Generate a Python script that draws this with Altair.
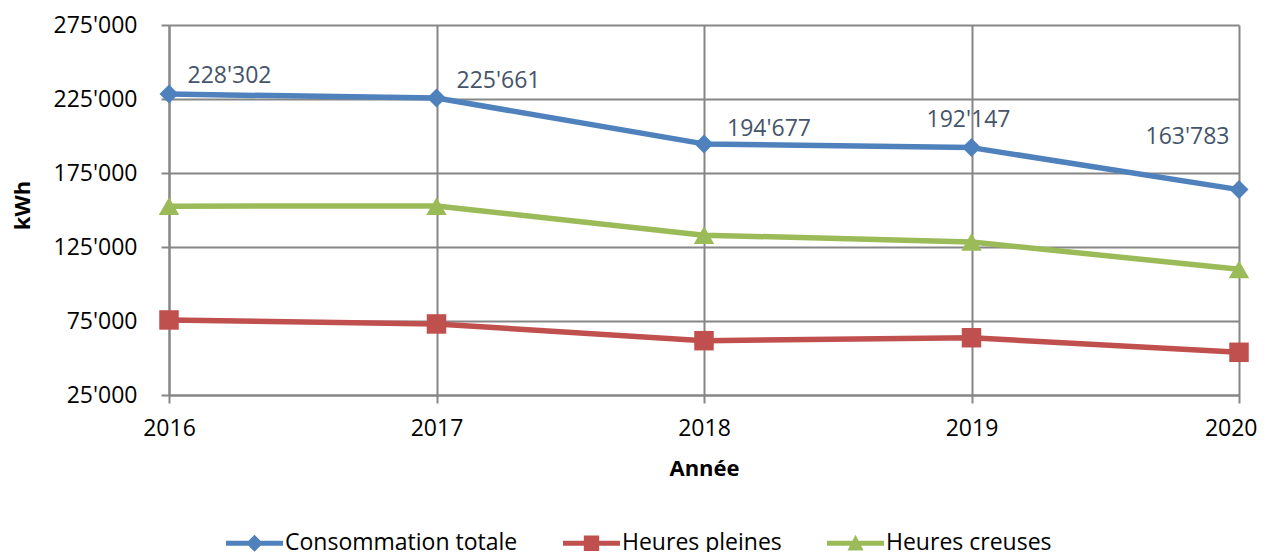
import altair as alt
import pandas as pd

# ---------------- data ----------------
YEARS = [2016, 2017, 2018, 2019, 2020]
SERIES = ["Consommation totale", "Heures pleines", "Heures creuses"]
TOTALE = [228302, 225661, 194677, 192147, 163783]
PLEINES = [75700, 73000, 61700, 63700, 53850]
CREUSES = [152600, 152660, 133000, 128450, 109930]
Y_TICKS = [25000, 75000, 125000, 175000, 225000, 275000]

# ---------------- styles ----------------
COLORS = ["#4F81BD", "#C0504D", "#9BBB59"]
SHAPES = ["diamond", "square", "triangle-up"]
SIZES = [361, 380, 420]
LEGEND_SHAPES = [
    "M-1,-0.09 L-0.21,-0.09 L0,-0.3 L0.21,-0.09 L1,-0.09 L1,0.09 L0.21,0.09 L0,0.3 L-0.21,0.09 L-1,0.09 Z",
    "M-1,-0.09 L-0.27,-0.09 L-0.27,-0.27 L0.27,-0.27 L0.27,-0.09 L1,-0.09 L1,0.09 L0.27,0.09 L0.27,0.27 L-0.27,0.27 L-0.27,0.09 L-1,0.09 Z",
    "M-1,-0.09 L-0.107,-0.09 L0,-0.3 L0.107,-0.09 L1,-0.09 L1,0.09 L0.199,0.09 L0.28,0.25 L-0.28,0.25 L-0.199,0.09 L-1,0.09 Z",
]
LABEL_OFFSETS = [(60.5, -18.5), (62, -17), (65, -15), (-3, -28), (-51.5, -53)]
FONT = "Open Sans"
GRID = "#868686"
LABEL_COLOR = "#44546A"
FMT = "replace(format(%s, ','), ',', \"'\")"

rows = []
for name, vals in zip(SERIES, [TOTALE, PLEINES, CREUSES]):
    for yr, v in zip(YEARS, vals):
        rows.append({"Année": yr, "Série": name, "kWh": v})
df = pd.DataFrame(rows)

last_year = "datum.value == %d" % YEARS[-1]
x = alt.X(
    "Année:Q",
    scale=alt.Scale(domain=[YEARS[0], YEARS[-1]], nice=False, zero=False),
    axis=alt.Axis(
        values=YEARS, format="d", title="Année",
        labelPadding=14, labelBaseline="top", labelFlush=False, labelBound=False,
        labelOverlap=False,
        labelAlign={"condition": {"test": last_year, "value": "right"}, "value": "center"},
        labelOffset={"condition": {"test": last_year, "value": 18}, "value": 0},
        titleX=535, titleY=73.5, titleAlign="center", titleBaseline="middle",
    ),
)
y = alt.Y(
    "kWh:Q",
    scale=alt.Scale(domain=[Y_TICKS[0], Y_TICKS[-1]], nice=False, zero=False),
    axis=alt.Axis(
        values=Y_TICKS, labelExpr=FMT % "datum.value", title="kWh",
        labelPadding=24, labelFlush=False, labelOverlap=False,
        titleX=-146.5, titleY=180, titleAlign="center", titleBaseline="middle",
    ),
)

base = alt.Chart(df)
layers = []

# legend-only layer (tiny points, hidden beneath the series markers)
legend_layer = base.mark_point(filled=True, opacity=1, size=1, strokeWidth=0).encode(
    x=x, y=y,
    color=alt.Color("Série:N", scale=alt.Scale(domain=SERIES, range=COLORS),
                    legend=alt.Legend(
                        orient="none", legendX=57, legendY=489.5, direction="horizontal",
                        title=None, symbolSize=3249, symbolOpacity=1, symbolStrokeWidth=0,
                        labelFont=FONT, labelFontSize=23, labelColor="#000000",
                        labelLimit=0, labelOffset=2, columnPadding=45, padding=0,
                    )),
    shape=alt.Shape("Série:N", scale=alt.Scale(domain=SERIES, range=LEGEND_SHAPES)),
)
layers.append(legend_layer)

for name, col, shp, sz in zip(SERIES, COLORS, SHAPES, SIZES):
    sub = base.transform_filter(alt.datum["Série"] == name)
    layers.append(
        sub.mark_line(strokeWidth=5.5, color=col, strokeJoin="round", strokeCap="butt").encode(x=x, y=y)
    )
    layers.append(
        sub.mark_point(filled=True, opacity=1, color=col, shape=shp, size=sz, strokeWidth=0).encode(x=x, y=y)
    )

for yr, (dx, dy) in zip(YEARS, LABEL_OFFSETS):
    layers.append(
        base.transform_filter((alt.datum["Série"] == SERIES[0]) & (alt.datum["Année"] == yr))
        .transform_calculate(lab=FMT % "datum.kWh")
        .mark_text(font=FONT, fontSize=23, color=LABEL_COLOR, dx=dx, dy=dy,
                   align="center", baseline="middle")
        .encode(x=x, y=y, text="lab:N")
    )

chart = (
    alt.layer(*layers)
    .properties(
        width=1070, height=370,
        autosize=alt.AutoSizeParams(type="none"),
        padding={"left": 161, "top": 17, "right": 19, "bottom": 157},
        background="white",
    )
    .configure_view(stroke=None)
    .configure_axis(
        grid=True, gridColor=GRID, gridWidth=2,
        domainColor=GRID, domainWidth=2,
        tickColor=GRID, tickWidth=2, tickSize=8,
        labelFont=FONT, labelFontSize=23, labelColor="#000000",
        titleFont=FONT, titleFontSize=22, titleFontWeight="bold", titleColor="#000000",
    )
)

chart.save("out.html", embed_options={"renderer": "svg", "actions": False})
